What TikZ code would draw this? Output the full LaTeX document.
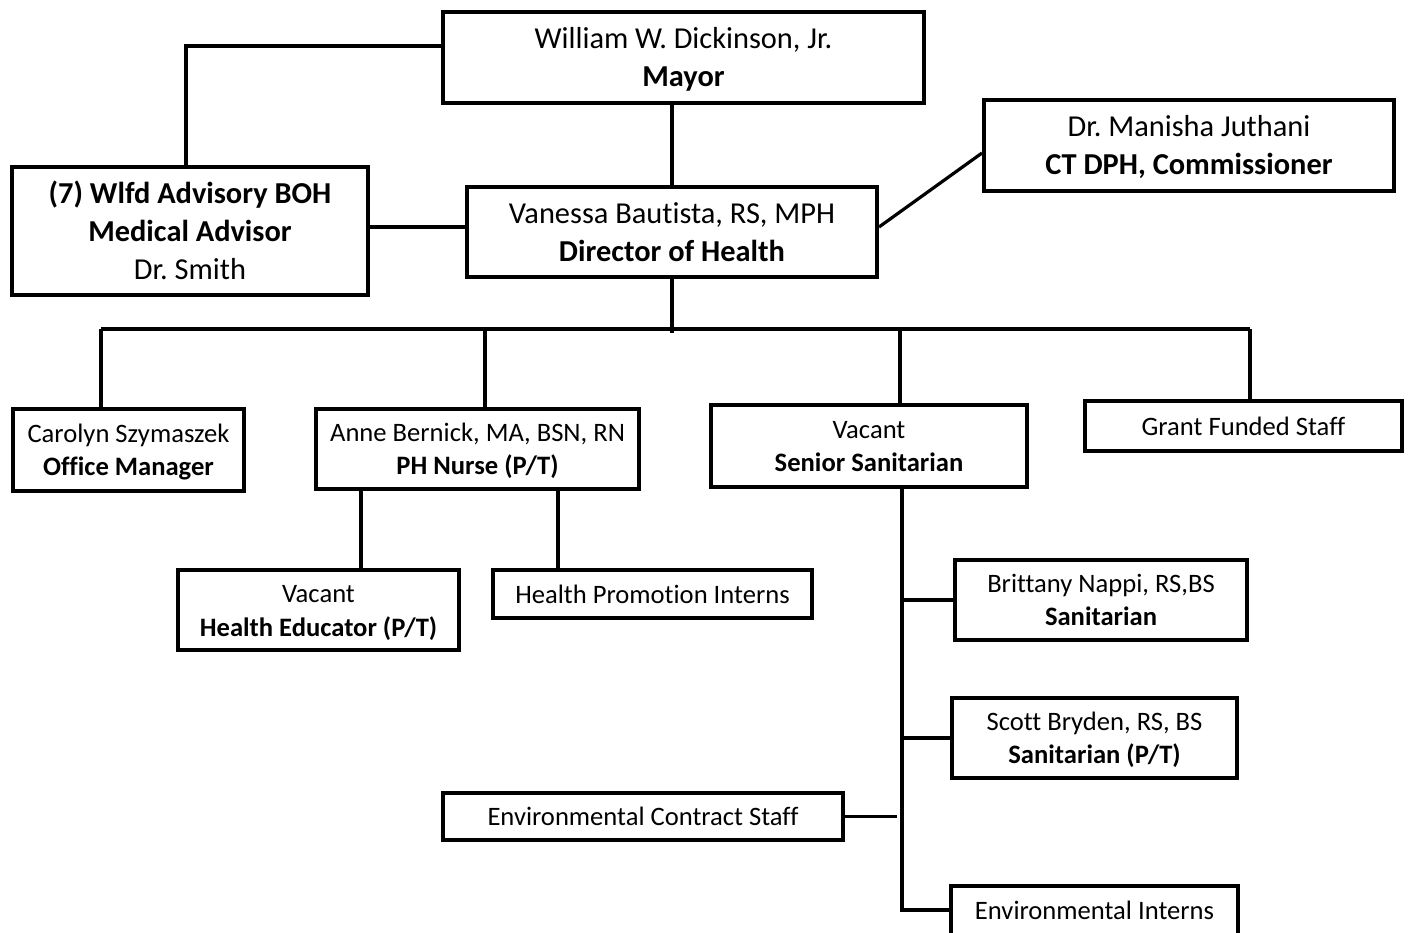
\documentclass[tikz,border=0pt]{standalone}
\usepackage{fontspec}
\setmainfont{Carlito}[Ligatures=NoCommon]
\newcommand\tstrut{\rule{0pt}{1.0em}}
\newcommand\bstrut{\rule[-0.3em]{0pt}{0pt}}
\frenchspacing
\begin{document}
\begin{tikzpicture}[x=0.5pt,y=-0.5pt,
  box/.style={draw,line width=2pt,inner sep=0pt,align=center,fill=white},
  big/.style={font=\fontsize{15.2}{19}\selectfont},
  small/.style={font=\fontsize{13.3}{16.6}\selectfont},
  conn/.style={line width=1.6pt}]
\useasboundingbox (0,0) rectangle (1408,932);
% nodes
\node[box,big,minimum width=240.5pt,minimum height=45.5pt] (mayor) at (683.5,57) {\tstrut William W. Dickinson, Jr.\\\textbf{Mayor}\bstrut};
\node[box,big,minimum width=205pt,minimum height=45.5pt] (ctdph) at (1189,145) {\tstrut Dr. Manisha Juthani\\\textbf{CT DPH, Commissioner}\bstrut};
\node[box,big,minimum width=178pt,minimum height=64pt] (boh) at (190,231) {\tstrut\textbf{(7) Wlfd Advisory BOH}\\\textbf{Medical Advisor}\\Dr. Smith\bstrut};
\node[box,big,minimum width=205pt,minimum height=45pt] (dir) at (672,232) {\tstrut Vanessa Bautista, RS, MPH\\\textbf{Director of Health}\bstrut};
\node[box,small,minimum width=115.5pt,minimum height=41pt] (office) at (128.5,450) {\tstrut Carolyn Szymaszek\\\textbf{Office Manager}\bstrut};
\node[box,small,minimum width=161.5pt,minimum height=40pt] (nurse) at (477.5,449) {\tstrut Anne Bernick, MA, BSN, RN\\\textbf{PH Nurse (P/T)}\bstrut};
\node[box,small,minimum width=158pt,minimum height=41pt] (senior) at (869,446) {\tstrut Vacant\\\textbf{Senior Sanitarian}\bstrut};
\node[box,small,minimum width=158.5pt,minimum height=25pt] (grant) at (1243.5,426) {\tstrut Grant Funded Staff\bstrut};
\node[box,small,minimum width=140.5pt,minimum height=40pt] (educator) at (318.5,610) {\tstrut Vacant\\[0.5pt]\textbf{Health Educator (P/T)}\bstrut};
\node[box,small,minimum width=159.5pt,minimum height=24pt] (hpi) at (652.5,594) {\tstrut Health Promotion Interns\bstrut};
\node[box,small,minimum width=146pt,minimum height=40pt] (brittany) at (1101,600) {\tstrut Brittany Nappi, RS,BS\\\textbf{Sanitarian}\bstrut};
\node[box,small,minimum width=142.5pt,minimum height=40pt] (scott) at (1094.5,738) {\tstrut Scott Bryden, RS, BS\\\textbf{Sanitarian (P/T)}\bstrut};
\node[box,small,minimum width=200pt,minimum height=23.5pt] (envcs) at (643,816.5) {\tstrut Environmental Contract Staff\bstrut};
\node[box,small,minimum width=143.5pt,minimum height=31pt] (envint) at (1094.5,917) {\tstrut Environmental Interns\rule[-0.83em]{0pt}{0pt}};
% connectors
\coordinate (c1) at (186,46);
\draw[conn] (c1 -| mayor.west) -- (c1) -- (c1 |- boh.north);
\draw[conn] (dir.north |- mayor.south) -- (dir.north);
\coordinate (b) at (0,227);
\draw[conn] (b -| boh.east) -- (b -| dir.west);
\coordinate (ct) at (0,153);
\draw[conn] (b -| dir.east) -- (ct -| ctdph.west);
\coordinate (bus) at (672,333);
\draw[conn] (dir.south) -- (bus);
\coordinate (d1) at (101,329);
\coordinate (d2) at (485,329);
\coordinate (d3) at (900,329);
\coordinate (d4) at (1250,329);
\draw[conn] (d1) -- (d4);
\draw[conn] (d1) -- (d1 |- office.north);
\draw[conn] (d2) -- (d2 |- nurse.north);
\draw[conn] (d3) -- (d3 |- senior.north);
\draw[conn] (d4) -- (d4 |- grant.north);
\coordinate (n1) at (361,0);
\coordinate (n2) at (558,0);
\draw[conn] (n1 |- nurse.south) -- (n1 |- educator.north);
\draw[conn] (n2 |- nurse.south) -- (n2 |- hpi.north);
\coordinate (sv) at (902,0);
\coordinate (ei) at (0,910);
\draw[conn] (sv |- senior.south) -- (sv |- ei) -- (ei -| envint.west);
\draw[conn] (sv |- brittany.west) -- (brittany.west);
\draw[conn] (sv |- scott.west) -- (scott.west);
\coordinate (ce) at (897,0);
\draw[conn] (envcs.east) -- (ce |- envcs.east);
\end{tikzpicture}
\end{document}
